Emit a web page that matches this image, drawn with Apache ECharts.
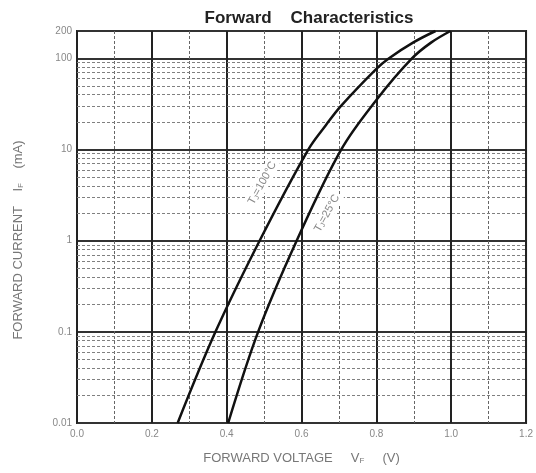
<!DOCTYPE html>
<html><head><meta charset="utf-8">
<script src="https://cdn.jsdelivr.net/npm/echarts@6/dist/echarts.min.js"></script>
<style>html,body{margin:0;padding:0;background:#fff}#c{width:536px;height:473px}</style>
</head><body><div id="c"></div>
<script>
// Forward voltage (V) and forward current (mA)
const vf100 = [0.269, 0.370, 0.488, 0.618, 0.665, 0.705, 0.800, 0.833, 0.899, 0.958];
const if100 = [0.01, 0.1, 1, 10, 18.5, 30, 77, 100, 150, 200];
const vf25 = [0.404, 0.484, 0.587, 0.706, 0.800, 0.895, 0.947, 0.998];
const if25 = [0.01, 0.1, 1, 10, 35, 100, 150, 200];
const yTicks = [0.01, 0.1, 1, 10, 100, 200];
const minorY = [];
[0.01, 0.1, 1, 10].forEach(d => { for (let k = 2; k <= 9; k++) minorY.push(+(d * k).toPrecision(2)); });
const label100 = { v: 0.495, i: 4.3, t: '100' };
const label25 = { v: 0.668, i: 2.0, t: '25' };

const chart = echarts.init(document.getElementById('c'));
const font = 'Liberation Sans, Arial, sans-serif';
function curveLabel(o) {
  return {
    symbol: 'circle', symbolSize: 0,
    data: [{ coord: [o.v, o.i], value: o.t }],
    label: {
      show: true, position: 'inside', rotate: 61,
      backgroundColor: '#fff', padding: [1, 2],
      formatter: '{a|T}{s|J}{a|=' + o.t + '°C}',
      rich: {
        a: { fontSize: 11, color: '#888', fontFamily: font },
        s: { fontSize: 7, color: '#888', fontFamily: font, verticalAlign: 'bottom', padding: [5, 0, 0, 0] }
      }
    }
  };
}
const nameRich = {
  a: { fontSize: 13, color: '#777', fontFamily: font },
  s: { fontSize: 8, color: '#777', fontFamily: font, verticalAlign: 'bottom', padding: [6, 0, 0, 0] }
};
chart.setOption({
  animation: false,
  title: {
    text: 'Forward    Characteristics', left: 304, top: 5, textAlign: 'center',
    textStyle: { fontSize: 17, fontWeight: 'bold', color: '#222', fontFamily: font }
  },
  grid: { left: 77, right: 8, top: 31, bottom: 50, show: true, borderColor: '#222', borderWidth: 2 },
  xAxis: {
    type: 'value', min: 0, max: 1.2, interval: 0.2,
    axisLine: { show: false }, axisTick: { show: false },
    axisLabel: { color: '#888', fontSize: 10, fontFamily: font, margin: 6, formatter: v => v.toFixed(1) },
    splitLine: { show: true, lineStyle: { color: '#222', width: 2 } },
    minorTick: { show: false, splitNumber: 2 },
    minorSplitLine: { show: true, lineStyle: { color: '#666', width: 1, type: [3, 2] } },
    name: '{a|FORWARD VOLTAGE     V}{s|F}{a|     (V)}', nameLocation: 'middle', nameGap: 28,
    nameTextStyle: { rich: nameRich }
  },
  yAxis: {
    type: 'log', logBase: 10, min: 0.01, max: 200,
    axisLine: { show: false }, axisTick: { show: false },
    axisLabel: {
      color: '#888', fontSize: 10, fontFamily: font, margin: 5,
      formatter: v => {
        const r = +(+v).toPrecision(3);
        return yTicks.indexOf(r) >= 0 ? String(r) : '';
      }
    },
    splitLine: { show: true, lineStyle: { color: '#333', width: 2 } },
    name: '{a|FORWARD CURRENT    I}{s|F}{a|    (mA)}', nameLocation: 'middle', nameGap: 52,
    nameTextStyle: { rich: nameRich, padding: [0, 26, 0, 0] }
  },
  series: [
    {
      type: 'line', silent: true, data: [], symbol: 'none',
      markLine: {
        silent: true, symbol: 'none', label: { show: false },
        lineStyle: { color: '#808080', width: 1, type: [3, 2] },
        data: minorY.map(y => ({ yAxis: y }))
      }
    },
    {
      name: 'Tj=100°C', type: 'line', smooth: 0.35, symbol: 'none',
      lineStyle: { color: '#111', width: 2.5 },
      data: vf100.map((v, i) => [v, if100[i]]),
      markPoint: curveLabel(label100), z: 5
    },
    {
      name: 'Tj=25°C', type: 'line', smooth: 0.35, symbol: 'none',
      lineStyle: { color: '#111', width: 2.5 },
      data: vf25.map((v, i) => [v, if25[i]]),
      markPoint: curveLabel(label25), z: 5
    }
  ]
});
</script>
</body></html>
